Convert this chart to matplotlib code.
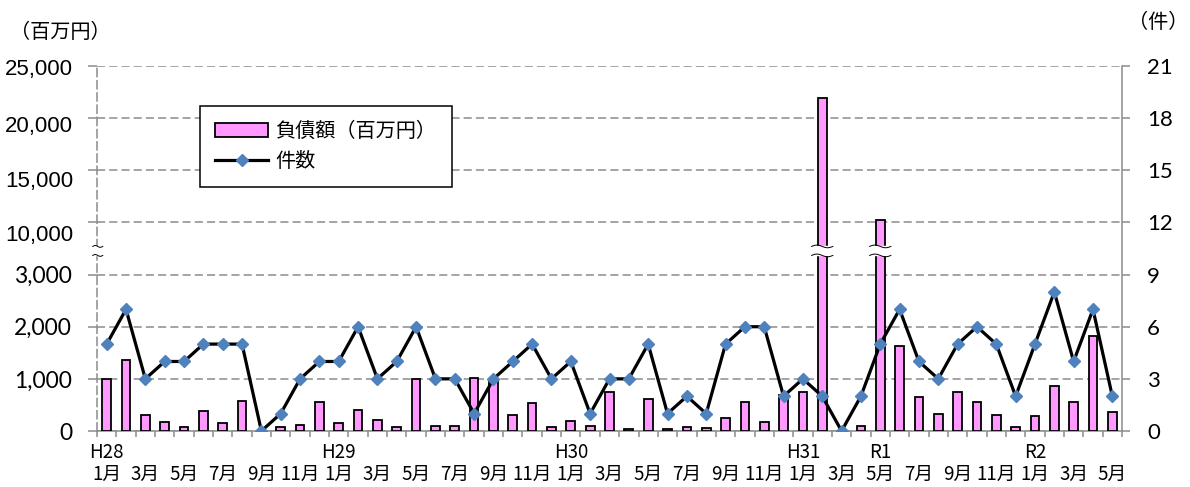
import matplotlib
matplotlib.use("Agg")
import matplotlib.pyplot as plt
import matplotlib.transforms as mtransforms
from matplotlib.lines import Line2D
from matplotlib.patches import Patch
import numpy as np

plt.rcParams["font.family"] = ["Noto Sans CJK JP", "DejaVu Sans"]

# --- data -------------------------------------------------------------
# monthly series, H28/1 (Jan 2016) .. R2/5 (May 2020)
MONTH_NUM = list(range(1, 13)) * 4 + [1, 2, 3, 4, 5]
YEAR_LABELS = {0: "H28", 12: "H29", 24: "H30", 36: "H31", 40: "R1", 48: "R2"}

# 負債額 (百万円)
DEBT = [
    1000, 1360, 310, 170, 70, 385, 155, 570, 0, 75, 115, 565,
    150, 410, 220, 70, 1000, 100, 90, 1010, 980, 310, 530, 75,
    190, 100, 740, 45, 620, 40, 70, 50, 250, 550, 180, 700,
    740, 21900, 0, 90, 10200, 1635, 660, 335, 750, 550, 315, 70,
    290, 870, 565, 1830, 370,
]
# 件数
COUNT = [
    5, 7, 3, 4, 4, 5, 5, 5, 0, 1, 3, 4,
    4, 6, 3, 4, 6, 3, 3, 1, 3, 4, 5, 3,
    4, 1, 3, 3, 5, 1, 2, 1, 5, 6, 6, 2,
    3, 2, 0, 2, 5, 7, 4, 3, 5, 6, 5, 2,
    5, 8, 4, 7, 2,
]

LEFT_TICKS = [0, 1000, 2000, 3000, 10000, 15000, 20000, 25000]
RIGHT_TICKS = list(range(0, 22, 3))

# broken left axis: 0-3000 linear, 3000-10000 squeezed, 10000-25000 linear
BREAK_LO, BREAK_HI = 5570, 6780

PINK = "#FF99FF"
BLUE = "#4F81BD"
GRID = "#8c8c8c"
DASH = (0, (5.3, 2.7))


def _fwd(v):
    v = np.asarray(v, dtype=float)
    return np.where(v <= 3000, v / 1000.0,
                    np.where(v <= 10000, 3 + (v - 3000) / 7000.0, 4 + (v - 10000) / 5000.0))


def _inv(u):
    u = np.asarray(u, dtype=float)
    return np.where(u <= 3, u * 1000.0,
                    np.where(u <= 4, 3000 + (u - 3) * 7000.0, 10000 + (u - 4) * 5000.0))


def _wave(x0, x1, y, amp=180, n=40):
    xs = np.linspace(x0, x1, n)
    ys = y + amp * np.sin((xs - x0) / (x1 - x0) * 2 * np.pi)
    return xs, ys


def main() -> None:
    x = np.arange(len(DEBT))
    fig = plt.figure(figsize=(11.9, 4.87), dpi=100)
    ax = fig.add_axes([97 / 1190, 1 - 431 / 487, (1122 - 97) / 1190, (431 - 66) / 487])
    ax.set_yscale("function", functions=(_fwd, _inv))

    ax.bar(x, DEBT, width=0.45, color=PINK, edgecolor="black", linewidth=1.3, zorder=3)

    # break marks on the two tall bars and on the left axis
    for i, v in enumerate(DEBT):
        if v > 10000:
            ax.fill_between([i - 0.3, i + 0.3], BREAK_LO, BREAK_HI, color="white", zorder=4)
            for yb in (BREAK_LO, BREAK_HI):
                xs, ys = _wave(i - 0.55, i + 0.55, yb)
                ax.plot(xs, ys, color="black", linewidth=0.7, zorder=5)
    ax.fill_between([-0.72, -0.2], BREAK_LO, BREAK_HI, color="white", zorder=4, clip_on=False)
    for yb in (BREAK_LO, BREAK_HI):
        xs, ys = _wave(-0.72, -0.2, yb, amp=120, n=20)
        ax.plot(xs, ys, color="black", linewidth=0.7, zorder=5, clip_on=False)

    ax.set_xlim(-0.5, len(DEBT) - 0.5)
    ax.set_ylim(0, 25000)
    ax.set_axisbelow(True)
    ax.yaxis.grid(True, color=GRID, linestyle=DASH, linewidth=1.1)

    ax.set_yticks(LEFT_TICKS)
    ax.set_yticklabels([f"{t:,}" if t <= 3000 else "" for t in LEFT_TICKS],
                       fontsize=16.5, family=["Lato", "DejaVu Sans"])
    ax.tick_params(axis="y", direction="out", length=6.5, width=1.1, color=GRID, pad=11.5)
    # upper labels sit slightly below their grid lines
    for t, dy in zip([10000, 15000, 20000, 25000], [13, 11, 8, 4]):
        off = mtransforms.ScaledTranslation(-0.24, -dy / 100, fig.dpi_scale_trans)
        ax.text(0, t, f"{t:,}", transform=ax.get_yaxis_transform() + off,
                ha="right", va="center", fontsize=16,
                family=["Liberation Sans Narrow", "Liberation Sans"])

    # x axis: tick marks between months, labels every other month
    ax.set_xticks(np.arange(-0.5, len(DEBT)), minor=True)
    ax.set_xticks(x)
    ax.set_xticklabels([])
    ax.tick_params(axis="x", which="minor", direction="out", length=4.5, width=1.1, color=GRID)
    ax.tick_params(axis="x", which="major", length=0)
    for i, m in enumerate(MONTH_NUM):
        if i % 2 == 0:
            ax.text(i, -0.12, f"{m}月", transform=ax.get_xaxis_transform(),
                    ha="center", va="center", fontsize=13.5)
        if i in YEAR_LABELS:
            ax.text(i, -0.06, YEAR_LABELS[i], transform=ax.get_xaxis_transform(),
                    ha="center", va="center", fontsize=13.5)

    for side in ("top", "right"):
        ax.spines[side].set_visible(False)
    ax.spines["left"].set_color(GRID)
    ax.spines["left"].set_linestyle(DASH)
    ax.spines["left"].set_linewidth(1.1)
    ax.spines["bottom"].set_color(GRID)
    ax.spines["bottom"].set_linewidth(1.1)

    ax2 = ax.twinx()
    ax2.plot(x, COUNT, color="black", linewidth=2.3, marker="D", markersize=6.6,
             markerfacecolor=BLUE, markeredgecolor=BLUE, zorder=3)
    ax2.set_ylim(0, 21)
    ax2.set_yticks(RIGHT_TICKS)
    ax2.set_yticklabels([str(t) for t in RIGHT_TICKS], fontsize=16, family=["Lato", "DejaVu Sans"])
    ax2.tick_params(axis="y", direction="out", length=6, width=1.1, color=GRID, pad=12)
    for side in ("top", "left", "bottom"):
        ax2.spines[side].set_visible(False)
    ax2.spines["right"].set_color(GRID)
    ax2.spines["right"].set_linewidth(1.1)

    handles = [
        Patch(facecolor=PINK, edgecolor="black", linewidth=1.3),
        Line2D([], [], color="black", linewidth=2.3, marker="D", markersize=6.6,
               markerfacecolor=BLUE, markeredgecolor=BLUE),
    ]
    leg = ax2.legend(handles, ["負債額（百万円）", "件数"], loc="upper left",
                     bbox_to_anchor=(103 / 1025, (431 - 106) / 365), borderaxespad=0,
                     fontsize=14.5, frameon=True, fancybox=False, framealpha=1,
                     edgecolor="black", handlelength=2.65, handletextpad=0.35,
                     borderpad=0.75, labelspacing=0.45)
    leg.get_frame().set_linewidth(1.1)

    fig.text(10 / 1190, 1 - 32 / 487, "（百万円）", ha="left", va="center", fontsize=14.5)
    fig.text(1188 / 1190, 1 - 22 / 487, "（件）", ha="right", va="center", fontsize=14.5)

    fig.savefig("out.png", dpi=100)
    plt.close(fig)


if __name__ == "__main__":
    main()
